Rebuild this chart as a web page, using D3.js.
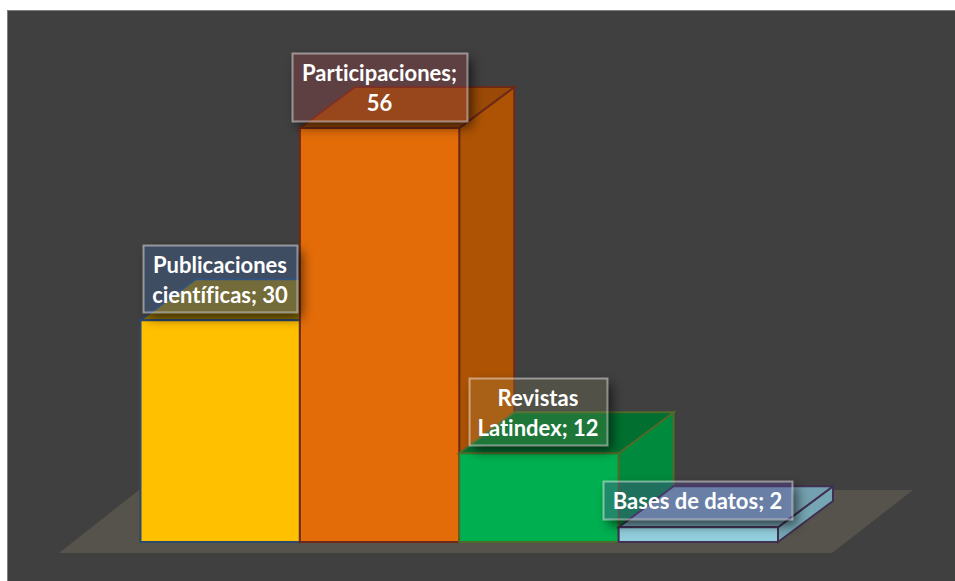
<!DOCTYPE html>
<html><head><meta charset="utf-8">
<script src="https://cdn.jsdelivr.net/npm/d3@7"></script>
<style>html,body{margin:0;padding:0;background:#fff}svg{display:block}</style></head>
<body><svg id="c" width="955" height="581"></svg>
<script>
const categories = ["Publicaciones científicas","Participaciones","Revistas Latindex","Bases de datos"];
const values = [30,56,12,2];
const labelLines = [["Publicaciones","científicas; 30"],["Participaciones;","56"],["Revistas","Latindex; 12"],["Bases de datos; 2"]];
const frontColors = ["#FFC000","#E36C09","#00B050","#92CDDC"];
const sideColors = ["#B08500","#AE5304","#008A3E","#75A6B4"];
const topColors = ["#927000","#9A4A06","#006F2F","#74A0AF"];
const strokeColors = ["#2C4A6E","#6E2A18","#4F6A2A","#403152"];
const labelFills = ["rgba(60,100,160,.36)","rgba(150,65,70,.36)","rgba(150,150,100,.2)","rgba(85,70,150,.36)"];
const labelBoxes = [[143,245,154,67],[292,53,175,68],[469,378,138,67],[603,481,189,38]];

const svg = d3.select("#c");
const defs = svg.append("defs");
defs.append("filter").attr("id","blur").attr("x","-20%").attr("y","-30%").attr("width","140%").attr("height","160%")
  .append("feGaussianBlur").attr("stdDeviation",6);

const x = d3.scaleBand().domain(categories).range([140.5,778]).padding(0);
const y = d3.scaleLinear().domain([0,56]).range([542,128]);
const depth = {dx:55, dy:-41};

svg.append("rect").attr("x",7.5).attr("y",10.5).attr("width",948).attr("height",571).attr("fill","#404040").attr("stroke","#7f7f7f");
const floor = d3.path();
floor.moveTo(59,553);floor.lineTo(832,553);floor.lineTo(913,490);floor.lineTo(139,490);floor.closePath();
svg.append("path").attr("d",floor.toString()).attr("fill","#55534B");

const poly = pts => d3.line()(pts)+"Z";
categories.forEach((c,i)=>{
  const g = svg.append("g");
  const x0=x(c), x1=x0+x.bandwidth(), yt=y(values[i]), yb=y(0);
  const {dx,dy}=depth;
  g.append("path").attr("d",poly([[x1,yb],[x1+dx,yb+dy],[x1+dx,yt+dy],[x1,yt]])).attr("fill",sideColors[i]).attr("stroke",strokeColors[i]).attr("stroke-width",2);
  g.append("path").attr("d",poly([[x0,yt],[x0+dx,yt+dy],[x1+dx,yt+dy],[x1,yt]])).attr("fill",topColors[i]).attr("stroke",strokeColors[i]).attr("stroke-width",2);
  g.append("rect").attr("x",x0).attr("y",yt).attr("width",x.bandwidth()).attr("height",yb-yt).attr("fill",frontColors[i]).attr("stroke",strokeColors[i]).attr("stroke-width",2);
});

labelBoxes.forEach((b,i)=>{
  const [bx,by,bw,bh]=b;
  const m = defs.append("mask").attr("id","m"+i).attr("maskUnits","userSpaceOnUse").attr("x",0).attr("y",0).attr("width",955).attr("height",581);
  m.append("rect").attr("width",955).attr("height",581).attr("fill","#fff");
  m.append("rect").attr("x",bx).attr("y",by).attr("width",bw).attr("height",bh).attr("fill","#000");
  svg.append("g").attr("mask","url(#m"+i+")")
    .append("rect").attr("x",bx+5).attr("y",by+6).attr("width",bw).attr("height",bh).attr("fill","#000").attr("opacity",.6).attr("filter","url(#blur)");
  svg.append("rect").attr("x",bx+.5).attr("y",by+.5).attr("width",bw).attr("height",bh)
    .attr("fill",labelFills[i]).attr("stroke","rgba(255,255,255,.45)").attr("stroke-width",2);
  const lines=labelLines[i], lh=30;
  const t=svg.append("text").attr("text-anchor","middle").attr("fill","#fff")
    .attr("font-family","Lato, 'Open Sans', sans-serif").attr("font-weight",700).attr("font-size",22)
    .style("font-variant-ligatures","none");
  lines.forEach((l,j)=>t.append("tspan").attr("x",bx+bw/2).attr("y",by+bh/2+9-(lines.length-1)*lh/2+j*lh).text(l));
});
</script></body></html>
